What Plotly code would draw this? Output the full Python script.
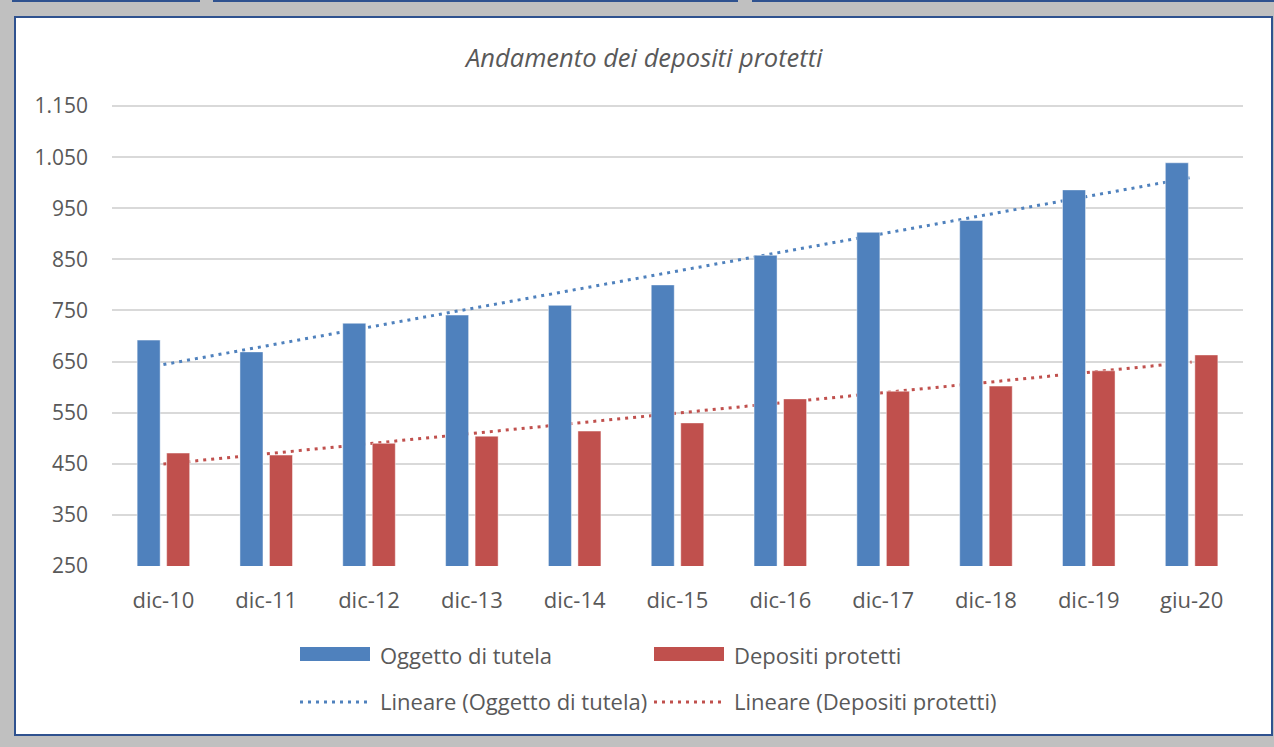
import numpy as np
import plotly.graph_objects as go

# dati (milioni)
periodi = ["dic-10", "dic-11", "dic-12", "dic-13", "dic-14", "dic-15",
           "dic-16", "dic-17", "dic-18", "dic-19", "giu-20"]
oggetto_tutela = [692, 669, 725, 741, 760, 800, 858, 903, 926, 986, 1039]
depositi_protetti = [471, 467, 490, 504, 514, 530, 577, 592, 602, 632, 663]

titolo = "Andamento dei depositi protetti"
nomi = ["Oggetto di tutela", "Depositi protetti"]
colori = ["#4F81BD", "#C0504D"]
testo = "#595959"
font = "Open Sans"

W, H = 1274, 747
ML, MR, MT, MB = 112, 31, 102.9, 181
PW, PH = W - ML - MR, H - MT - MB


def px(x):
    return (x - ML) / PW


def py(y):
    return (H - MB - y) / PH


def trend(vals):
    idx = np.arange(1, len(vals) + 1)
    a, b = np.polyfit(idx, vals, 1)
    return [a * idx[0] + b, a * idx[-1] + b]


fig = go.Figure()

# linee di tendenza (dietro le barre)
for serie, col in zip([oggetto_tutela, depositi_protetti], colori):
    fig.add_trace(go.Scatter(x=[periodi[0], periodi[-1]], y=trend(serie),
                             mode="lines", zorder=0, showlegend=False,
                             line=dict(color=col, width=3, dash="3px,5px")))

for serie, nome, col in zip([oggetto_tutela, depositi_protetti], nomi, colori):
    fig.add_trace(go.Bar(x=periodi, y=serie, name=nome, zorder=1,
                         marker=dict(color=col, line=dict(color="rgba(255,255,255,0.45)", width=1))))

shapes = [
    # cornice
    dict(type="rect", xref="paper", yref="paper", layer="below",
         x0=px(15), x1=px(1272), y0=py(17), y1=py(735),
         fillcolor="white", line=dict(color="#2F528F", width=2)),
    # bordi in alto
    dict(type="rect", xref="paper", yref="paper", layer="below",
         x0=px(12), x1=px(200), y0=py(0), y1=py(2), fillcolor="#2F528F", line_width=0),
    dict(type="rect", xref="paper", yref="paper", layer="below",
         x0=px(213), x1=px(738), y0=py(0), y1=py(2), fillcolor="#2F528F", line_width=0),
    dict(type="rect", xref="paper", yref="paper", layer="below",
         x0=px(752), x1=px(1274), y0=py(0), y1=py(2), fillcolor="#2F528F", line_width=0),
]

# legenda disegnata come in Excel
annotations = [dict(text="<i>" + titolo + "</i>", xref="paper", yref="paper",
                    x=px(643), y=py(57), xanchor="center", yanchor="middle", showarrow=False,
                    font=dict(family=font, size=25.5, color=testo))]
col_x = [300, 654]
for i, (nome, col) in enumerate(zip(nomi, colori)):
    x0 = col_x[i]
    shapes.append(dict(type="rect", xref="paper", yref="paper",
                       x0=px(x0), x1=px(x0 + 70), y0=py(661), y1=py(647),
                       fillcolor=col, line_width=0))
    shapes.append(dict(type="line", xref="paper", yref="paper",
                       x0=px(x0), x1=px(x0 + 70), y0=py(702), y1=py(702),
                       line=dict(color=col, width=3, dash="3px,5px")))
    annotations.append(dict(text=nome, xref="paper", yref="paper", x=px(x0 + 78), y=py(655),
                            xanchor="left", yanchor="middle", showarrow=False,
                            font=dict(family=font, size=22, color=testo)))
    annotations.append(dict(text="Lineare (" + nome + ")", xref="paper", yref="paper",
                            x=px(x0 + 78), y=py(701), xanchor="left", yanchor="middle",
                            showarrow=False, font=dict(family=font, size=22, color=testo)))

fig.update_layout(
    width=W, height=H,
    margin=dict(l=ML, r=MR, t=MT, b=MB),
    paper_bgcolor="#C0C0C0", plot_bgcolor="white",
    barmode="group", bargap=0.426, bargroupgap=0.22,
    separators=",.",
    showlegend=False,
    shapes=shapes, annotations=annotations,
    font=dict(family=font, size=21, color=testo),
)
fig.update_xaxes(categoryorder="array", categoryarray=periodi,
                 showgrid=False, showline=True, linecolor="#D9D9D9", linewidth=1.5,
                 ticks="", ticklabelstandoff=14, tickfont=dict(size=22, color=testo))
fig.update_yaxes(range=[250, 1156], dtick=100, tick0=250, tickformat=",d",
                 showgrid=True, gridcolor="#D9D9D9", gridwidth=1.5, zeroline=False,
                 ticks="", ticklabelstandoff=23, tickfont=dict(size=21, color=testo))

fig.write_html("out.html", config={"displayModeBar": False},
               post_script="document.body.style.margin='0';")
